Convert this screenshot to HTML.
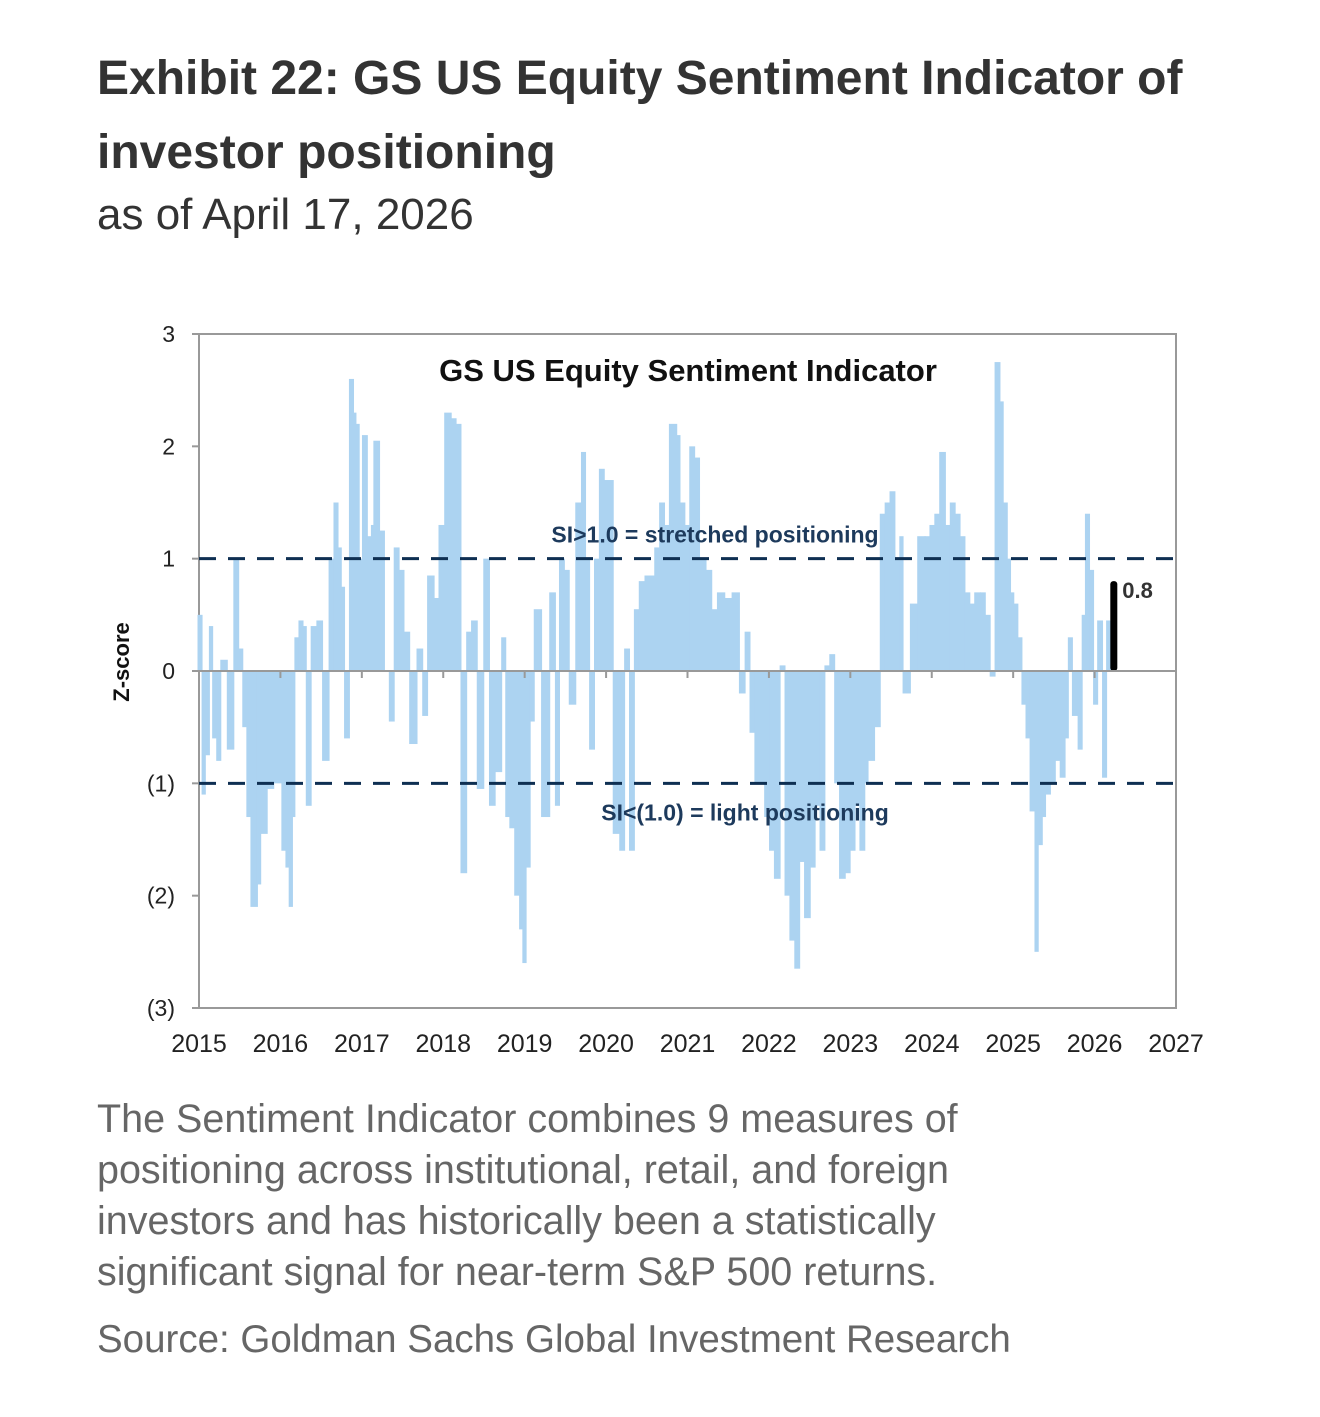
<!DOCTYPE html>
<html><head><meta charset="utf-8"><style>
body{margin:0;background:#fff;width:1320px;height:1417px;overflow:hidden;font-family:"Liberation Sans",sans-serif}
.h{position:absolute;left:97px;color:#333}
</style></head><body>
<div class="h" style="top:42px;font-size:48px;font-weight:bold;line-height:74px;width:1180px">Exhibit 22: GS US Equity Sentiment Indicator of investor positioning</div>
<div class="h" style="top:190px;font-size:44px;color:#333">as of April 17, 2026</div>
<svg id="chart" style="position:absolute;left:0;top:0" width="1320" height="1080"></svg>
<div class="h" style="top:1094px;font-size:39.5px;line-height:51px;color:#666;width:1010px">The Sentiment Indicator combines 9 measures of positioning across institutional, retail, and foreign investors and has historically been a statistically significant signal for near-term S&amp;P 500 returns.</div>
<div class="h" style="top:1318px;font-size:38.5px;color:#666">Source: Goldman Sachs Global Investment Research</div>
<script>
const dates=[2015.00,2015.05,2015.09,2015.14,2015.18,2015.23,2015.28,2015.36,2015.44,2015.50,2015.55,2015.60,2015.65,2015.73,2015.77,2015.85,2015.93,2016.03,2016.08,2016.12,2016.16,2016.19,2016.24,2016.29,2016.33,2016.39,2016.46,2016.53,2016.61,2016.67,2016.72,2016.76,2016.80,2016.86,2016.91,2016.94,2016.98,2017.02,2017.08,2017.13,2017.16,2017.23,2017.29,2017.35,2017.41,2017.47,2017.53,2017.60,2017.69,2017.76,2017.82,2017.90,2017.96,2018.03,2018.11,2018.17,2018.23,2018.30,2018.36,2018.43,2018.51,2018.58,2018.65,2018.73,2018.78,2018.83,2018.89,2018.95,2018.99,2019.03,2019.08,2019.13,2019.22,2019.32,2019.39,2019.44,2019.50,2019.56,2019.64,2019.71,2019.76,2019.81,2019.87,2019.93,2019.99,2020.06,2020.10,2020.18,2020.24,2020.30,2020.36,2020.42,2020.49,2020.55,2020.61,2020.67,2020.73,2020.79,2020.88,2020.92,2020.98,2021.04,2021.10,2021.16,2021.24,2021.31,2021.38,2021.47,2021.56,2021.65,2021.72,2021.78,2021.84,2021.90,2021.96,2022.02,2022.08,2022.15,2022.21,2022.27,2022.33,2022.39,2022.45,2022.52,2022.58,2022.64,2022.70,2022.76,2022.82,2022.88,2022.95,2023.01,2023.07,2023.13,2023.19,2023.23,2023.31,2023.38,2023.44,2023.50,2023.56,2023.62,2023.66,2023.75,2023.84,2023.93,2023.99,2024.05,2024.11,2024.18,2024.24,2024.30,2024.36,2024.42,2024.48,2024.54,2024.61,2024.67,2024.73,2024.79,2024.85,2024.89,2024.94,2024.98,2025.02,2025.07,2025.12,2025.17,2025.22,2025.28,2025.32,2025.37,2025.41,2025.47,2025.53,2025.59,2025.65,2025.69,2025.74,2025.81,2025.86,2025.90,2025.95,2026.00,2026.05,2026.11,2026.16,2026.23];
const values=[0.5,-1.1,-0.75,0.4,-0.6,-0.8,0.1,-0.7,1.0,0.2,-0.5,-1.3,-2.1,-1.9,-1.45,-1.05,-1.0,-1.6,-1.75,-2.1,-1.3,0.3,0.45,0.4,-1.2,0.4,0.45,-0.8,1.0,1.5,1.1,0.75,-0.6,2.6,2.3,2.2,1.0,2.1,1.2,1.3,2.05,1.25,0.0,-0.45,1.1,0.9,0.35,-0.65,0.2,-0.4,0.85,0.65,1.3,2.3,2.25,2.2,-1.8,0.35,0.45,-1.05,1.0,-1.2,-0.9,0.3,-1.3,-1.4,-2.0,-2.3,-2.6,-1.75,-0.45,0.55,-1.3,0.7,-1.2,1.0,0.9,-0.3,1.5,1.95,1.0,-0.7,1.0,1.8,1.7,1.7,-1.45,-1.6,0.2,-1.6,0.55,0.8,0.85,0.85,1.1,1.5,1.3,2.2,2.1,1.5,1.3,2.0,1.9,1.0,0.9,0.55,0.7,0.65,0.7,-0.2,0.35,-0.55,-1.0,-1.0,-1.3,-1.6,-1.85,0.05,-2.0,-2.4,-2.65,-1.7,-2.2,-1.75,-1.2,-1.6,0.05,0.15,-1.0,-1.85,-1.8,-1.6,-1.2,-1.6,-1.0,-0.8,-0.5,1.4,1.5,1.6,1.0,1.2,-0.2,0.6,1.2,1.2,1.3,1.4,1.95,1.3,1.5,1.4,1.2,0.7,0.6,0.7,0.7,0.5,-0.05,2.75,2.4,1.5,1.0,0.7,0.6,0.3,-0.3,-0.6,-1.25,-2.5,-1.55,-1.3,-1.1,-1.0,-0.8,-0.95,-0.6,0.3,-0.4,-0.7,0.5,1.4,0.9,-0.3,0.45,-0.95,0.45,0.8];
const yTicks=[3,2,1,0,-1,-2,-3];
const yTickLabels=["3","2","1","0","(1)","(2)","(3)"];
const xTicks=[2015,2016,2017,2018,2019,2020,2021,2022,2023,2024,2025,2026,2027];
const thresholds=[1,-1];
const L=199,R=1176,T=334,B=1008;
const xs=v=>L+(v-2015)/12*(R-L);
const ys=v=>T+(3-v)/6*(B-T);
const svg=document.getElementById('chart');
const NS='http://www.w3.org/2000/svg';
function mk(t,a,p){const e=document.createElementNS(NS,t);for(const k in a)e.setAttribute(k,a[k]);(p||svg).appendChild(e);return e;}
const frame=mk('rect',{x:L,y:T,width:R-L,height:B-T,fill:'none',stroke:'#999','stroke-width':2});


const g=mk('g',{});


for(let i=0;i<values.length-1;i++){
 const x0=xs(dates[i]),x1=xs(dates[i+1]),y0=ys(0),y1=ys(values[i]);
 const r=mk('rect',{x:x0-1.5,y:Math.min(y0,y1),width:Math.max(3,x1-x0+1),height:Math.abs(y1-y0),fill:'#acd3f1'},g);
 
 
}
const li=values.length-1;
const last=mk('rect',{x:xs(dates[li])-3,y:Math.min(ys(0),ys(values[li])),width:7,height:Math.abs(ys(values[li])-ys(0)),fill:'#000',rx:3});


const lt=mk('text',{x:xs(dates[li])+9,y:ys(values[li])+17,'font-size':22,'font-weight':'bold',fill:'#333'});
lt.textContent=values[li].toFixed(1);


const zl=mk('line',{x1:L,x2:R,y1:ys(0),y2:ys(0),stroke:'#999','stroke-width':2});


xTicks.forEach(t=>{
 const tk=mk('line',{x1:xs(t),x2:xs(t),y1:ys(0),y2:ys(0)+7,stroke:'#999','stroke-width':2});
 
 
 const tx=mk('text',{x:xs(t),y:B+44,'font-size':25,'text-anchor':'middle',fill:'#222'});
 tx.textContent=t;
 
 
});
yTicks.forEach((t,i)=>{
 const tk=mk('line',{x1:L-7,x2:L,y1:ys(t),y2:ys(t),stroke:'#999','stroke-width':2});
 
 
 const tx=mk('text',{x:175,y:ys(t)+8,'font-size':23,'text-anchor':'end',fill:'#222'});
 tx.textContent=yTickLabels[i];
 
 
});
thresholds.forEach(t=>{
 const d=mk('line',{x1:L,x2:R,y1:ys(t),y2:ys(t),stroke:'#0e2f52','stroke-width':3,'stroke-dasharray':'17,12'});
 
 
});
const a1=mk('text',{x:715,y:ys(1)-16,'font-size':23,'font-weight':'bold','text-anchor':'middle',fill:'#1d3a5c'});
a1.textContent='SI>1.0 = stretched positioning';


const a2=mk('text',{x:745,y:ys(-1)+37,'font-size':23,'font-weight':'bold','text-anchor':'middle',fill:'#1d3a5c'});
a2.textContent='SI<(1.0) = light positioning';


const ct=mk('text',{x:688,y:381,'font-size':31,'font-weight':'bold','text-anchor':'middle',fill:'#111'});
ct.textContent='GS US Equity  Sentiment Indicator';


const yt=mk('text',{x:0,y:0,'font-size':22,'font-weight':'bold','text-anchor':'middle',fill:'#111',transform:'translate(129,662) rotate(-90)'});
yt.textContent='Z-score';


</script>
</body></html>
